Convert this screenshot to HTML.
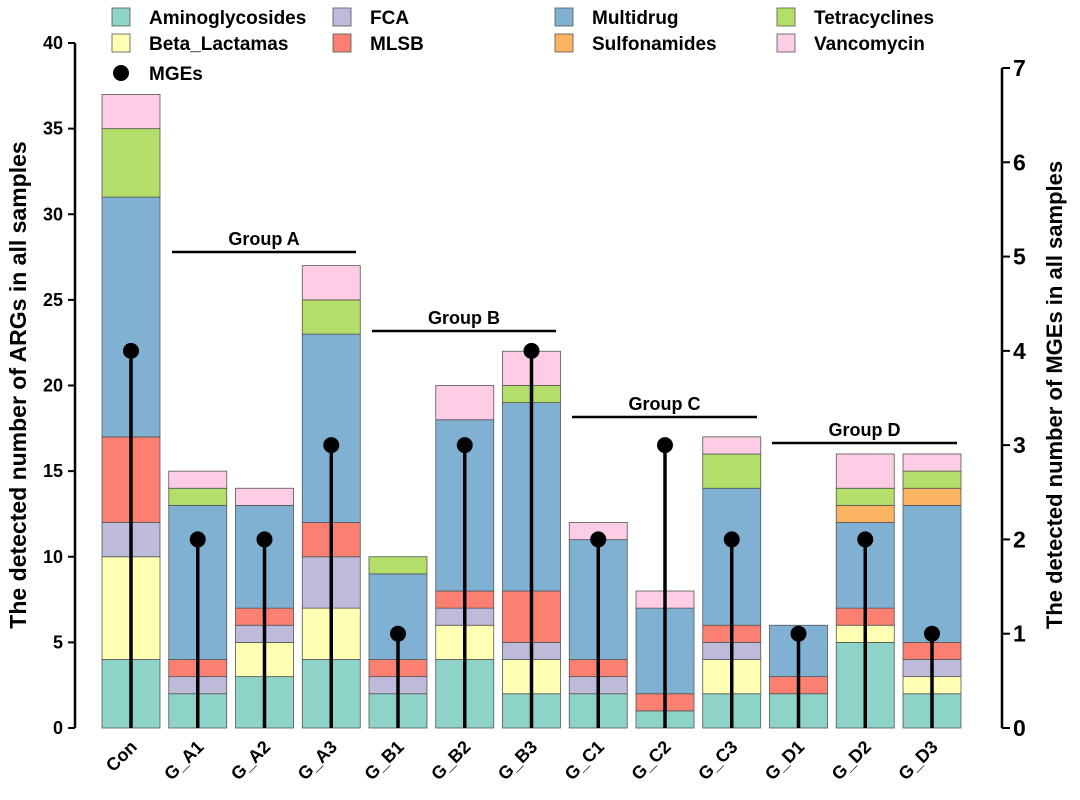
<!DOCTYPE html>
<html><head><meta charset="utf-8"><style>
body{margin:0;background:#fff}
svg{font-family:"Liberation Sans",Arial,sans-serif;font-weight:bold}
</style></head><body>
<svg id="c" width="1080" height="795"></svg>
<script>
const categories=["Con","G_A1","G_A2","G_A3","G_B1","G_B2","G_B3","G_C1","G_C2","G_C3","G_D1","G_D2","G_D3"];
const seriesNames=["Aminoglycosides","Beta_Lactamas","FCA","MLSB","Multidrug","Sulfonamides","Tetracyclines","Vancomycin"];
const aminoglycosides=[4,2,3,4,2,4,2,2,1,2,2,5,2];
const betaLactamas=[6,0,2,3,0,2,2,0,0,2,0,1,1];
const fca=[2,1,1,3,1,1,1,1,0,1,0,0,1];
const mlsb=[5,1,1,2,1,1,3,1,1,1,1,1,1];
const multidrug=[14,9,6,11,5,10,11,7,5,8,3,5,8];
const sulfonamides=[0,0,0,0,0,0,0,0,0,0,0,1,1];
const tetracyclines=[4,1,0,2,1,0,1,0,0,2,0,1,1];
const vancomycin=[2,1,1,2,0,2,2,1,1,1,0,2,1];
const mges=[4,2,2,3,1,3,4,2,3,2,1,2,1];
const leftTicks=[0,5,10,15,20,25,30,35,40];
const rightTicks=[0,1,2,3,4,5,6,7];
const groups=["Group A","Group B","Group C","Group D"];
const colors=["#8DD3C7","#FFFFB3","#BEBADA","#FB8072","#80B1D3","#FDB462","#B3DE69","#FCCDE5"];
const series=[aminoglycosides,betaLactamas,fca,mlsb,multidrug,sulfonamides,tetracyclines,vancomycin];
const NS="http://www.w3.org/2000/svg",svg=document.getElementById('c');
function mk(t,a,p){const e=document.createElementNS(NS,t);for(const k in a)e.setAttribute(k,a[k]);(p||svg).appendChild(e);return e;}
const y0=728,yL=v=>y0-v*(685/40),yR=v=>y0-v*(660/7);
const xC=i=>131+i*66.75,bw=58;
categories.forEach((c,i)=>{let acc=0;series.forEach((s,k)=>{const v=s[i];if(v>0){const r=mk('rect',{x:xC(i)-bw/2,y:yL(acc+v),width:bw,height:yL(acc)-yL(acc+v),fill:colors[k],stroke:'#555','stroke-width':0.8});

}acc+=v;});});
categories.forEach((c,i)=>{const l=mk('line',{x1:xC(i),x2:xC(i),y1:y0,y2:yR(mges[i]),stroke:'#000','stroke-width':3.5});


const d=mk('circle',{cx:xC(i),cy:yR(mges[i]),r:8,fill:'#000'});


const t=mk('text',{x:xC(i)+7,y:748,'font-size':18,'text-anchor':'end',transform:`rotate(-45 ${xC(i)+7} 748)`});t.textContent=c;

});
mk('line',{x1:75,x2:75,y1:yL(40),y2:y0,stroke:'#000','stroke-width':2.5});
mk('line',{x1:1002,x2:1002,y1:yR(7),y2:y0,stroke:'#000','stroke-width':2.5});
leftTicks.forEach(v=>{mk('line',{x1:68,x2:75,y1:yL(v),y2:yL(v),stroke:'#000','stroke-width':2});const t=mk('text',{x:63,y:yL(v)+6,'font-size':18,'text-anchor':'end'});t.textContent=v;

});
rightTicks.forEach(v=>{mk('line',{x1:1002,x2:1010,y1:yR(v),y2:yR(v),stroke:'#000','stroke-width':2});const t=mk('text',{x:1013,y:yR(v)+8,'font-size':23});t.textContent=v;

});
let t=mk('text',{x:26,y:385,'font-size':23,'text-anchor':'middle',transform:'rotate(-90 26 385)'});t.textContent='The detected number of ARGs in all samples';
t=mk('text',{x:1062,y:395,'font-size':22,'text-anchor':'middle',transform:'rotate(-90 1062 395)'});t.textContent='The detected number of MGEs in all samples';
const gx=[[172,356,252],[372,556,331],[572,757,417],[772,957,443]];
groups.forEach((g,i)=>{const[a,b,y]=gx[i];mk('line',{x1:a,x2:b,y1:y,y2:y,stroke:'#000','stroke-width':2.5});
const tt=mk('text',{x:(a+b)/2,y:y-7,'font-size':18,'text-anchor':'middle'});tt.textContent=g;});
const lx=[112,333,555,777];
seriesNames.forEach((n,k)=>{const col=k<2?0:k<4?1:k<6?2:3;const row=k%2;const x=lx[col],y=row?43:17;
const r=mk('rect',{x:x,y:y-9,width:18,height:18,fill:colors[k],stroke:'#555','stroke-width':0.8});


const tt=mk('text',{x:x+37,y:y+7,'font-size':19});tt.textContent=n;

});
mk('circle',{cx:121,cy:73,r:8,fill:'#000'});
t=mk('text',{x:149,y:80,'font-size':19});t.textContent='MGEs';
</script></body></html>
